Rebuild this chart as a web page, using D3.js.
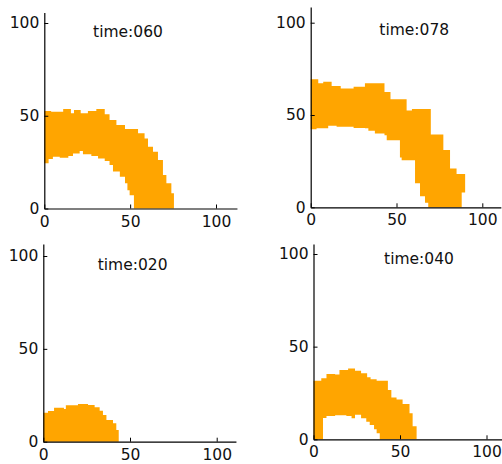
<!DOCTYPE html>
<html>
<head>
<meta charset="utf-8">
<script src="https://cdn.jsdelivr.net/npm/d3@7"></script>
<style>
  body { margin: 0; background: #fff; }
  text { font-family: "DejaVu Sans", sans-serif; }
</style>
</head>
<body>
<div id="chart"></div>
<script>
const tickValues = [0, 50, 100];
const titles = ["time:060", "time:078", "time:020", "time:040"];

// occupied cells, as steps: [x, top, bottom] holds until the next x
const cells060 = [
  [0, 52.6, 24.4], [2.5, 52.6, 26.7], [4, 52.2, 26.7], [5, 52.2, 27.9],
  [9, 52.2, 27.4], [11, 53.6, 27.4], [14, 53.6, 28.3], [15.5, 51.3, 28.3],
  [16.7, 51.3, 29.7], [17.3, 53.1, 29.7], [20.6, 53.1, 31], [21.2, 51.3, 31],
  [22.5, 51.3, 29.2], [25.4, 52.6, 29.2], [27.4, 52.6, 28.3], [30.3, 53.6, 28.3],
  [31.3, 53.6, 27], [35.2, 50.8, 25.6], [38, 47.7, 23.5], [40, 47.7, 19.9],
  [42, 45, 19.9], [44, 45, 17.1], [47, 42.8, 13.6], [48.4, 42.8, 9.8],
  [49.7, 42.8, 7.2], [52.2, 42.8, 0], [54.6, 40.5, 0], [58.4, 37.8, 0],
  [60.4, 33.3, 0], [63.3, 30.6, 0], [66.2, 26.1, 0], [69.1, 18, 0],
  [71.1, 13.6, 0], [74, 8.2, 0], [75.5, 8.2, 0]
];

const cells078 = [
  [0, 69.3, 42.3], [3.4, 69.3, 42.8], [4.4, 67.2, 42.8], [7.3, 68, 42.8],
  [10.2, 68, 44.2], [12.2, 65.7, 44.2], [15.1, 65.7, 43.7], [17.5, 64.4, 43.7],
  [25, 65.3, 43], [31.6, 67.2, 42.8], [33.6, 67.2, 41.5], [37.4, 67.2, 40],
  [43, 62.4, 39], [44.3, 62.4, 36.3], [46.5, 58.5, 36.3], [52, 58.5, 27],
  [53, 58.5, 25.5], [55.9, 52.5, 25.5], [59, 53.3, 25.5], [60.8, 53.3, 13],
  [63.7, 53.3, 6], [66.6, 53.3, 2.5], [68.5, 53.3, 0], [70, 39.5, 0],
  [77.3, 31, 0], [81.2, 21, 0], [85, 18, 0], [88, 18, 8], [90, 18, 8]
];

const cells020 = [
  [0, 15.6, 0], [2.7, 16.5, 0], [6.2, 18.3, 0], [11.9, 17.6, 0],
  [13, 19.6, 0], [20, 20.3, 0], [25.8, 19.8, 0], [29.6, 18.5, 0],
  [32.5, 16.7, 0], [34.4, 14.4, 0], [36.4, 11.7, 0], [40.2, 9.9, 0],
  [42.1, 6.3, 0], [43.5, 6.3, 0]
];

const cells040 = [
  [0, 31.6, 0], [4.5, 33, 0], [5.5, 33, 11.5], [7.5, 35.2, 12.6],
  [12.5, 35, 13], [15, 37.4, 13], [19, 37.4, 12.6], [20, 38.2, 12.6],
  [22, 38.2, 11.3], [24, 37, 13.3], [27.5, 35.6, 11.3], [30.5, 35.6, 9.5],
  [31, 33.5, 9.5], [32.5, 33.5, 7.7], [33, 32.4, 7.7], [35, 32.4, 5.4],
  [36.5, 31.6, 3.2], [38.3, 31.6, 0], [43, 26.6, 0], [45, 22.6, 0],
  [48, 21.5, 0], [51.5, 19, 0], [55.5, 14, 0], [57.3, 7, 0], [59.6, 7, 0]
];

const width = 502, height = 464;

// pixel layout of each subplot (origin, px per unit, axis extent, title spot)
const panels = [
  {title: titles[0], cells: cells060, left: 44.3, bottom: 208.5, kx: 1.717, ky: 1.855, xMax: 112.2, yMax: 105.7, tx: 28.4, ty: 92.6},
  {title: titles[1], cells: cells078, left: 310.7, bottom: 207.3, kx: 1.716, ky: 1.846, xMax: 110.8, yMax: 108.5, tx: 40, ty: 93.3},
  {title: titles[2], cells: cells020, left: 43.3, bottom: 441.7, kx: 1.734, ky: 1.857, xMax: 111.1, yMax: 106.5, tx: 31.4, ty: 92.5},
  {title: titles[3], cells: cells040, left: 313.5, bottom: 439.3, kx: 1.73, ky: 1.853, xMax: 114, yMax: 105.4, tx: 40.8, ty: 94.6}
];

const svg = d3.select("#chart")
  .append("svg")
  .attr("width", width)
  .attr("height", height)
  .style("display", "block");

panels.forEach(p => {
  const x = d3.scaleLinear()
    .domain([0, p.xMax])
    .range([p.left, p.left + p.xMax * p.kx]);
  const y = d3.scaleLinear()
    .domain([0, p.yMax])
    .range([p.bottom, p.bottom - p.yMax * p.ky]);

  const area = d3.area()
    .x(d => x(d[0]))
    .y0(d => y(d[2]))
    .y1(d => y(d[1]))
    .curve(d3.curveStepAfter);

  svg.append("path")
    .datum(p.cells)
    .attr("d", area)
    .attr("fill", "#ffa500");

  const xAxis = svg.append("g")
    .attr("transform", `translate(0,${p.bottom})`)
    .call(d3.axisBottom(x).tickValues(tickValues).tickSizeInner(-4).tickSizeOuter(0).tickPadding(7));

  const yAxis = svg.append("g")
    .attr("transform", `translate(${p.left},0)`)
    .call(d3.axisLeft(y).tickValues(tickValues).tickSizeInner(-4).tickSizeOuter(0).tickPadding(5));

  [xAxis, yAxis].forEach(g => {
    g.selectAll("text")
      .style("font-size", "15.5px")
      .attr("fill", "#111");
    g.select(".domain").attr("stroke", "#000").attr("stroke-width", 1.2);
    g.selectAll(".tick line").attr("stroke", "#000");
  });

  svg.append("text")
    .attr("x", x(p.tx))
    .attr("y", y(p.ty))
    .style("font-size", "15.5px")
    .attr("fill", "#111")
    .text(p.title);
});
</script>
</body>
</html>
